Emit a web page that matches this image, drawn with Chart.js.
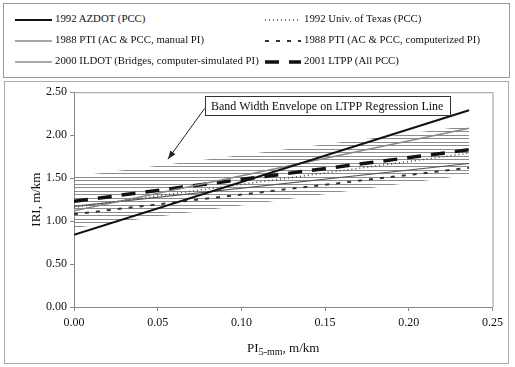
<!DOCTYPE html>
<html>
<head>
<meta charset="utf-8">
<script src="https://cdn.jsdelivr.net/npm/chart.js@4/dist/chart.umd.min.js"></script>
<style>
	body { margin: 0; background: #fff; font-family: "Liberation Serif", serif; }
	#wrap { position: relative; width: 515px; height: 367px; }
	#legend {
		position: absolute; left: 3px; top: 3px; width: 505px; height: 73px;
		border: 1px solid #999; font-size: 10.8px; color: #111;
	}
	.item { position: absolute; height: 16px; line-height: 16px; white-space: nowrap; }
	.item canvas { vertical-align: middle; margin-right: 3px; }
	#box {
		position: absolute; left: 4px; top: 81px; width: 503px; height: 281px;
		border: 1px solid #aaa;
	}
</style>
</head>
<body>
<div id="wrap">
	<div id="legend"></div>
	<div id="box"><canvas id="chart" width="503" height="281"></canvas></div>
</div>
<script>
// x positions of the regression line ends (PI5-mm, m/km)
const piValues = [0, 0.236];

// IRI values at both ends (m/km)
const azdot1992 = [0.84, 2.29];
const texas1992 = [1.16, 1.79];
const ptiManual1988 = [1.12, 2.08];
const ptiComputer1988 = [1.08, 1.62];
const ildot2000 = [1.17, 1.67];
const ltpp2001 = [1.23, 1.83];

// band width envelope around the LTPP line
const bandUpper = [1.52, 2.11];
const bandLower = [0.92, 1.54];

const yTicks = [0, 0.5, 1.0, 1.5, 2.0, 2.5];
const xTicks = [0, 0.05, 0.1, 0.15, 0.2, 0.25];

const seriesNames = [
	"1992 AZDOT (PCC)",
	"1992 Univ. of Texas (PCC)",
	"1988 PTI (AC & PCC, manual PI)",
	"1988 PTI (AC & PCC, computerized PI)",
	"2000 ILDOT (Bridges, computer-simulated PI)",
	"2001 LTPP (All PCC)",
];

const styles = [
	{ color: "#111", width: 2, dash: [] },
	{ color: "#444", width: 1.5, dash: [1, 3] },
	{ color: "#888", width: 1.5, dash: [] },
	{ color: "#333", width: 2, dash: [4, 7] },
	{ color: "#555", width: 1.2, dash: [] },
	{ color: "#111", width: 3.5, dash: [14, 10] },
];

function toPoints(ys) {
	return ys.map((y, i) => ({ x: piValues[i], y: y }));
}

// horizontal line hatching for the envelope
function hatchPattern() {
	const c = document.createElement("canvas");
	c.width = 8;
	c.height = 7;
	const g = c.getContext("2d");
	g.fillStyle = "rgba(120,120,120,0.85)";
	g.fillRect(0, 0, 8, 1);
	g.fillRect(0, 4, 8, 1);
	return g.createPattern(c, "repeat");
}

// legend, two columns
const legendEl = document.getElementById("legend");
seriesNames.forEach((name, i) => {
	const col = i % 2;
	const row = Math.floor(i / 2);
	const div = document.createElement("div");
	div.className = "item";
	div.style.left = (col === 0 ? 10 : 260) + "px";
	div.style.top = (6 + row * 21) + "px";
	const sw = document.createElement("canvas");
	sw.width = col === 0 ? 38 : 37;
	sw.height = 8;
	const g = sw.getContext("2d");
	const s = styles[i];
	g.strokeStyle = s.color;
	g.lineWidth = s.width;
	g.setLineDash(s.dash);
	g.beginPath();
	g.moveTo(1, 4);
	g.lineTo(sw.width, 4);
	g.stroke();
	div.appendChild(sw);
	div.appendChild(document.createTextNode(name));
	legendEl.appendChild(div);
});

const allSeries = [azdot1992, texas1992, ptiManual1988, ptiComputer1988, ildot2000, ltpp2001];
const datasets = allSeries.map((ys, i) => ({
	label: seriesNames[i],
	data: toPoints(ys),
	borderColor: styles[i].color,
	borderWidth: styles[i].width,
	borderDash: styles[i].dash,
	pointRadius: 0,
	fill: false,
	order: 1,
}));
datasets.push({
	label: "upper",
	data: toPoints(bandUpper),
	borderWidth: 0,
	borderColor: "rgba(0,0,0,0)",
	backgroundColor: hatchPattern(),
	pointRadius: 0,
	fill: "+1",
	order: 5,
});
datasets.push({
	label: "lower",
	data: toPoints(bandLower),
	borderWidth: 0,
	borderColor: "rgba(0,0,0,0)",
	pointRadius: 0,
	fill: false,
	order: 5,
});

const serif = "'Liberation Serif', 'Times New Roman', serif";

// frame, annotation and x title with subscript
const extras = {
	id: "extras",
	afterDraw(chart) {
		const ctx = chart.ctx;
		const a = chart.chartArea;
		const xs = chart.scales.x;
		const ys = chart.scales.y;
		ctx.save();
		ctx.strokeStyle = "#999";
		ctx.lineWidth = 1;
		ctx.beginPath();
		ctx.moveTo(a.left, a.top + 0.5);
		ctx.lineTo(a.right + 0.5, a.top + 0.5);
		ctx.lineTo(a.right + 0.5, a.bottom);
		ctx.stroke();

		// annotation box
		const bx = xs.getPixelForValue(0.0782);
		const bx2 = xs.getPixelForValue(0.2243);
		const by = ys.getPixelForValue(2.454);
		const by2 = ys.getPixelForValue(2.236);
		ctx.fillStyle = "#fff";
		ctx.fillRect(bx, by, bx2 - bx, by2 - by);
		ctx.strokeStyle = "#333";
		ctx.strokeRect(Math.round(bx) + 0.5, Math.round(by) + 0.5, Math.round(bx2 - bx), Math.round(by2 - by));
		ctx.fillStyle = "#111";
		ctx.font = "12px " + serif;
		ctx.textAlign = "center";
		ctx.textBaseline = "middle";
		ctx.fillText("Band Width Envelope on LTPP Regression Line", (bx + bx2) / 2, (by + by2) / 2 + 1);

		// arrow
		const ax = xs.getPixelForValue(0.078);
		const ay = ys.getPixelForValue(2.31);
		const tx = xs.getPixelForValue(0.0561);
		const ty = ys.getPixelForValue(1.72);
		ctx.strokeStyle = "#222";
		ctx.lineWidth = 1;
		ctx.beginPath();
		ctx.moveTo(ax, ay);
		ctx.lineTo(tx, ty);
		ctx.stroke();
		const ang = Math.atan2(ty - ay, tx - ax);
		ctx.fillStyle = "#222";
		ctx.beginPath();
		ctx.moveTo(tx, ty);
		ctx.lineTo(tx - 9 * Math.cos(ang - 0.35), ty - 9 * Math.sin(ang - 0.35));
		ctx.lineTo(tx - 9 * Math.cos(ang + 0.35), ty - 9 * Math.sin(ang + 0.35));
		ctx.closePath();
		ctx.fill();

		// x title
		ctx.textAlign = "left";
		ctx.textBaseline = "alphabetic";
		const p1 = "PI";
		const p2 = "5-mm";
		const p3 = ", m/km";
		ctx.font = "13px " + serif;
		const w1 = ctx.measureText(p1).width;
		const w3 = ctx.measureText(p3).width;
		ctx.font = "10px " + serif;
		const w2 = ctx.measureText(p2).width;
		let x0 = (a.left + a.right) / 2 - (w1 + w2 + w3) / 2;
		const base = 270;
		ctx.fillStyle = "#111";
		ctx.font = "13px " + serif;
		ctx.fillText(p1, x0, base);
		ctx.font = "10px " + serif;
		ctx.fillText(p2, x0 + w1, base + 3);
		ctx.font = "13px " + serif;
		ctx.fillText(p3, x0 + w1 + w2, base);
		ctx.restore();
	},
};

new Chart(document.getElementById("chart"), {
	type: "line",
	data: { datasets: datasets },
	options: {
		responsive: false,
		animation: false,
		layout: { padding: { top: 7, right: 14, left: 0, bottom: 0 } },
		plugins: { legend: { display: false }, tooltip: { enabled: false } },
		scales: {
			x: {
				type: "linear",
				min: 0,
				max: 0.25,
				afterBuildTicks: (s) => { s.ticks = xTicks.map((v) => ({ value: v })); },
				afterFit: (s) => { s.height = 56; },
				grid: { drawOnChartArea: false, tickLength: 4, color: "#888" },
				border: { color: "#888" },
				ticks: {
					padding: 5,
					color: "#111",
					font: { family: serif, size: 12 },
					callback: (v) => v.toFixed(2),
				},
			},
			y: {
				min: 0,
				max: 2.5,
				afterBuildTicks: (s) => { s.ticks = yTicks.map((v) => ({ value: v })); },
				afterFit: (s) => { s.width = 69; },
				grid: { drawOnChartArea: false, tickLength: 4, color: "#888" },
				border: { color: "#888" },
				ticks: {
					padding: 3,
					color: "#111",
					font: { family: serif, size: 12 },
					callback: (v) => v.toFixed(2),
				},
				title: {
					display: true,
					text: "IRI, m/km",
					color: "#111",
					font: { family: serif, size: 13 },
					padding: { top: 24, bottom: 0 },
				},
			},
		},
	},
	plugins: [extras],
});
</script>
</body>
</html>
